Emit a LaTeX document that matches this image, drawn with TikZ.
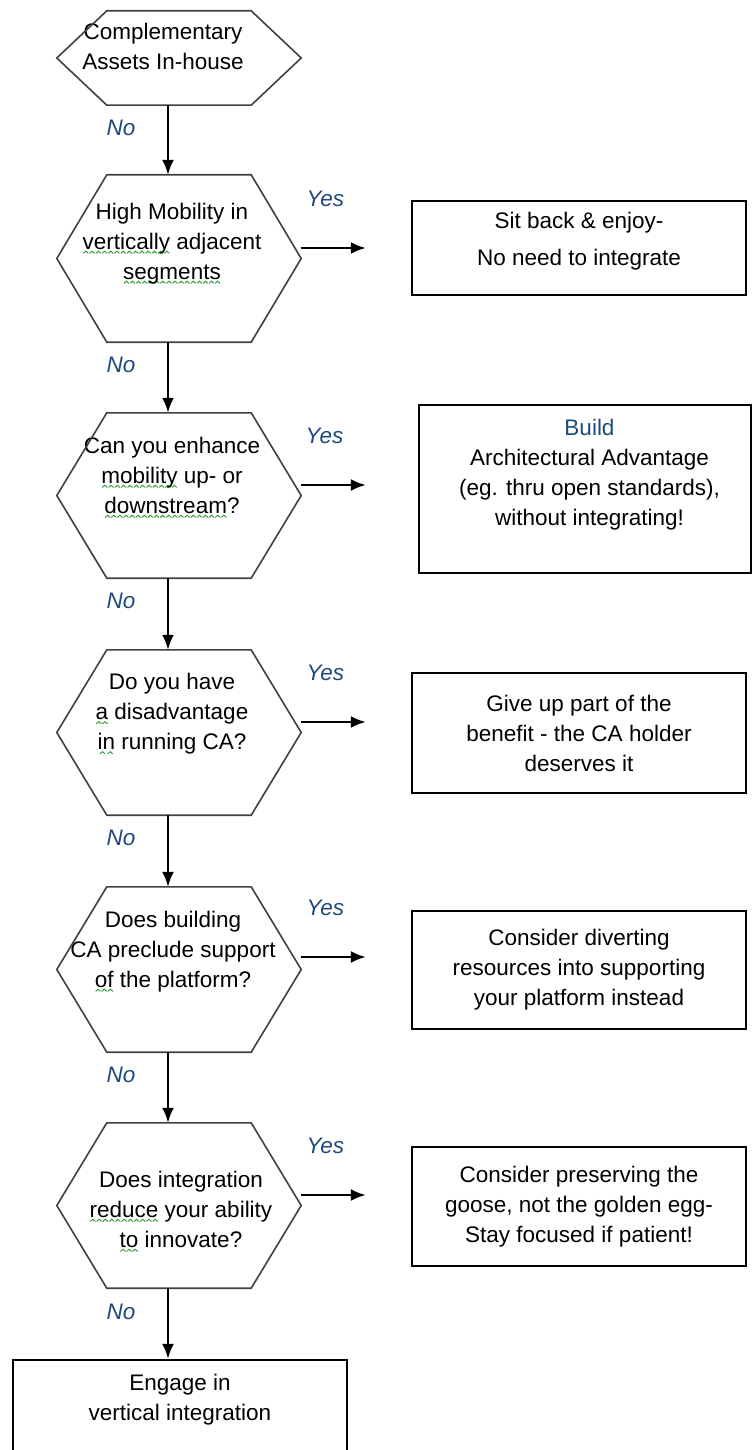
\documentclass[tikz,border=0pt]{standalone}
\usepackage{fontspec}
\setmainfont{Liberation Sans}
\usetikzlibrary{arrows.meta, calc, positioning}
\definecolor{labelblue}{RGB}{31,73,125}
\definecolor{spellgreen}{RGB}{40,150,40}
\newsavebox\spellbox
\AtBeginDocument{\global\setbox\spellbox=\hbox{\begin{pgfpicture}\pgfsetlinewidth{0.9pt}\pgfsetstrokecolor{spellgreen}\pgfpathmoveto{\pgfpoint{0pt}{0pt}}\pgfpathlineto{\pgfpoint{2.5pt}{2.2pt}}\pgfpathlineto{\pgfpoint{5pt}{0pt}}\pgfusepath{stroke}\end{pgfpicture}}}
\newcommand\spell[1]{\leavevmode\setbox0\hbox{#1}\rlap{\lower4.5pt\hbox to\wd0{\xleaders\copy\spellbox\hfill}}\box0\relax}
\newcommand\diagfont{\fontsize{22.5pt}{30pt}\selectfont}
\tikzstyle{hexa} = [rectangle, minimum width=244pt, inner sep=0pt]
\tikzstyle{hexline} = [line width=1.6pt, draw=black!75]
\tikzstyle{qtext} = [align=center, inner sep=0pt]
\tikzstyle{block} = [rectangle, line width=2.5pt, draw=black, minimum width=334pt, align=center, inner sep=0pt]
\tikzstyle{arrow} = [line width=2.2pt, -{Latex[length=15pt,width=12pt]}]
\tikzstyle{lbl} = [font=\diagfont\itshape, text=labelblue, inner sep=0pt]

\begin{document}
\begin{tikzpicture}[x=1pt, y=-1pt, font=\diagfont]
	\useasboundingbox (0,0) rectangle (752,1450);
	% questions
	\node (Assets) [hexa, minimum height=94pt, label={[qtext, xshift=-16pt, yshift=12pt]center:{Complementary\\Assets In-house}}] at (179,58) {};
	\node (Mobility) [hexa, minimum height=167pt, label={[qtext, xshift=-7pt, yshift=15pt]center:{High Mobility in\\\spell{vertically} adjacent\\\spell{segments}}}] at (179,258.5) {};
	\node (Enhance) [hexa, minimum height=165pt, label={[qtext, xshift=-7pt, yshift=18pt]center:{Can you enhance\\\spell{mobility} up- or\\\spell{downstream}?}}] at (179,495.5) {};
	\node (Disadvantage) [hexa, minimum height=165pt, label={[qtext, xshift=-7pt, yshift=18.5pt]center:{Do you have\\\spell{a} disadvantage\\\spell{in} running CA?}}] at (179,732.5) {};
	\node (Platform) [hexa, minimum height=165pt, label={[qtext, xshift=-6pt, yshift=18pt]center:{Does building\\CA preclude support\\\spell{of} the platform?}}] at (179,969.5) {};
	\node (Innovate) [hexa, minimum height=165pt, label={[qtext, xshift=2pt, yshift=-6pt]center:{Does integration\\\spell{reduce} your ability\\\spell{to} innovate?}}] at (179,1205.5) {};
	\foreach \q in {Assets, Mobility, Enhance, Disadvantage, Platform, Innovate}
		\draw[hexline] ($(\q.north west)+(50,0)$) -- ($(\q.north east)+(-50,0)$) -- (\q.east) -- ($(\q.south east)+(-50,0)$) -- ($(\q.south west)+(50,0)$) -- (\q.west) -- cycle;
	% answers
	\node (Enjoy) [block, minimum height=94pt, label={[qtext, yshift=6.5pt]center:{Sit back \& enjoy-\\[7pt]No need to integrate}}] at (579,248) {};
	\node (Build) [block, minimum width=332pt, minimum height=168pt, label={[qtext, xshift=4.5pt, yshift=14pt]center:{\textcolor{labelblue}{Build}\\Architectural Advantage\\(eg. thru open standards),\\without integrating!}}] at (585,489) {};
	\node (GiveUp) [block, minimum height=120pt] at (579,733) {Give up part of the\\benefit - the CA holder\\deserves it};
	\node (Divert) [block, minimum height=118pt] at (579,970) {Consider diverting\\resources into supporting\\your platform instead};
	\node (Goose) [block, minimum height=119pt] at (579,1206.5) {Consider preserving the\\goose, not the golden egg-\\Stay focused if patient!};
	\node (Integrate) [block, minimum height=96pt, label={[qtext, yshift=8pt]center:{Engage in\\vertical integration}}] at (180,1408) {};
	% no arrows
	\draw [arrow] ([xshift=-11pt]Assets.south) -- ([xshift=-11pt]Mobility.north) node[lbl, pos=.32, xshift=-47pt] (No1) {No};
	\draw [arrow] ([xshift=-11pt]Mobility.south) -- ([xshift=-11pt]Enhance.north) node[lbl, pos=.32, xshift=-47pt] (No2) {No};
	\draw [arrow] ([xshift=-11pt]Enhance.south) -- ([xshift=-11pt]Disadvantage.north) node[lbl, pos=.32, xshift=-47pt] (No3) {No};
	\draw [arrow] ([xshift=-11pt]Disadvantage.south) -- ([xshift=-11pt]Platform.north) node[lbl, pos=.32, xshift=-47pt] (No4) {No};
	\draw [arrow] ([xshift=-11pt]Platform.south) -- ([xshift=-11pt]Innovate.north) node[lbl, pos=.32, xshift=-47pt] (No5) {No};
	\draw [arrow] ([xshift=-11pt]Innovate.south) -- ([xshift=-12pt]Integrate.north) node[lbl, pos=.34, xshift=-47pt] (No6) {No};
	% yes arrows
	\draw [arrow, shorten >=45pt] ([yshift=10.5pt]Mobility.east) -- ([yshift=10.5pt]Mobility.east -| Enjoy.west) node[lbl, pos=.22, yshift=49pt] (Yes1) {Yes};
	\draw [arrow, shorten >=52pt] ([yshift=10.5pt]Enhance.east) -- ([yshift=10.5pt]Enhance.east -| Build.west) node[lbl, pos=.2, yshift=49pt] (Yes2) {Yes};
	\draw [arrow, shorten >=45pt] ([yshift=10.5pt]Disadvantage.east) -- ([yshift=10.5pt]Disadvantage.east -| GiveUp.west) node[lbl, pos=.22, yshift=49pt] (Yes3) {Yes};
	\draw [arrow, shorten >=45pt] ([yshift=12.5pt]Platform.east) -- ([yshift=12.5pt]Platform.east -| Divert.west) node[lbl, pos=.22, yshift=49pt] (Yes4) {Yes};
	\draw [arrow, shorten >=45pt] ([yshift=10.5pt]Innovate.east) -- ([yshift=10.5pt]Innovate.east -| Goose.west) node[lbl, pos=.22, yshift=49pt] (Yes5) {Yes};
\end{tikzpicture}
\end{document}
